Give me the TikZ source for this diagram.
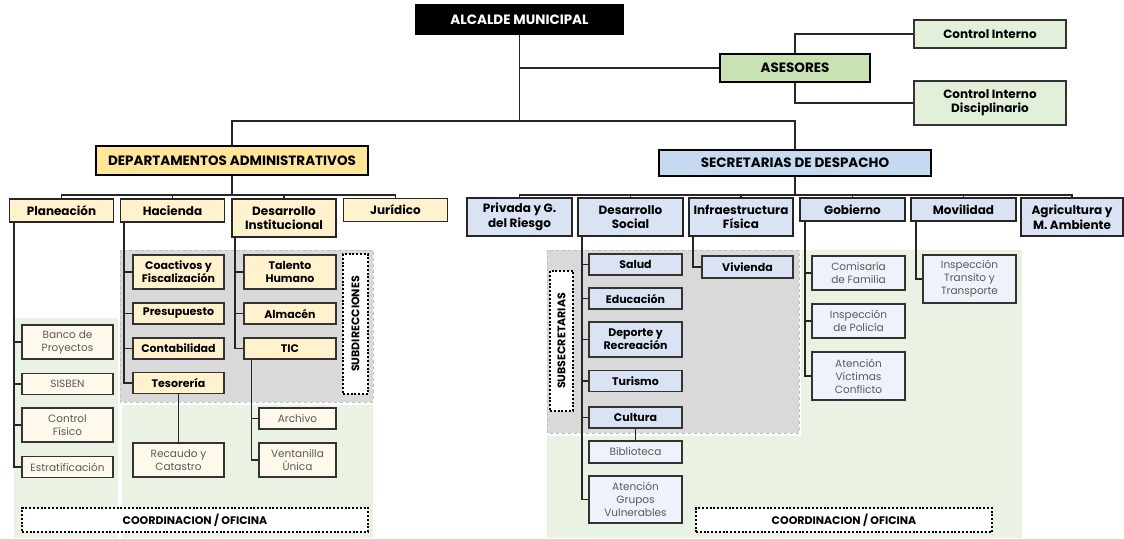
\documentclass[tikz,border=0pt]{standalone}
\usepackage{fontspec}
\setmainfont{Poppins}
\usepackage{xcolor}
\definecolor{orggreen}{RGB}{201,226,179}
\definecolor{orggreenlt}{RGB}{226,240,217}
\definecolor{orgyellow}{RGB}{255,230,153}
\definecolor{orgcream}{RGB}{255,242,204}
\definecolor{orgcreamlt}{RGB}{255,249,236}
\definecolor{orgblue}{RGB}{197,217,241}
\definecolor{orgbluesub}{RGB}{218,227,243}
\definecolor{orgbluelt}{RGB}{238,242,250}
\definecolor{orgtext}{RGB}{89,89,89}
\definecolor{zonegray}{RGB}{217,217,217}
\definecolor{zonegreen}{RGB}{234,243,227}
\usetikzlibrary{positioning}

\tikzset{
  head/.style={draw=black, line width=2.2pt, font=\fontsize{13.5}{15}\selectfont\bfseries, inner sep=0pt, align=center},
  dept/.style={draw=black!85, line width=1.5pt, fill=orgcream, font=\fontsize{12}{14.5}\selectfont\bfseries, inner sep=0pt, align=center, minimum width=104pt},
  secr/.style={dept, fill=orgbluesub},
  subbox/.style={draw=black!80, line width=1.3pt, fill=orgcream, font=\fontsize{11}{13}\selectfont\bfseries, inner sep=0pt, align=center, minimum width=91pt},
  leafbox/.style={draw=black!80, line width=1.3pt, fill=orgcreamlt, text=orgtext, font=\fontsize{10.5}{13}\selectfont, inner sep=0pt, align=center, minimum width=91pt},
  ctrlbox/.style={draw=black!80, line width=1.3pt, fill=orggreenlt, font=\fontsize{12}{14}\selectfont\bfseries, inner sep=0pt, align=center, minimum width=152pt},
  dotbox/.style={draw=black, line width=2pt, dash pattern=on 2pt off 1.8pt, fill=white, font=\fontsize{11}{12}\selectfont\bfseries, inner sep=0pt},
  vlabel/.style={font=\fontsize{11}{12}\selectfont\bfseries, rotate=90},
  link/.style={draw=black!85, line width=1.6pt},
}

\begin{document}
\begin{tikzpicture}[x=1pt, y=-1pt]
  \useasboundingbox (0,0) rectangle (1124,538);

  % zones behind the units
  \fill[zonegreen] (14,318) rectangle (118,538);
  \fill[zonegreen] (122,405) rectangle (373,538);
  \fill[zonegray, draw=black!25, dashed, thin] (120,250) rectangle (373,402);
  \fill[zonegreen] (547,436) rectangle (1022,538);
  \fill[zonegreen] (801,250) rectangle (1022,538);
  \fill[zonegray, draw=black!25, dashed, thin] (547,250) rectangle (799,433);

  % top level
  \node[head, fill=black, text=white, minimum width=207pt, minimum height=29pt] (alcalde) at (519.5,19.5) {ALCALDE MUNICIPAL};
  \node[head, fill=orggreen, minimum width=150pt, minimum height=28pt] (asesores) at (795,68) {ASESORES};
  \node[ctrlbox, minimum height=28pt] (ci) at (990,34) {Control Interno};
  \node[ctrlbox, minimum height=44pt] (cid) at (990,103) {Control Interno\\Disciplinario};

  \node[head, fill=orgyellow, minimum width=272pt, minimum height=29pt] (deptos) at (232,160.5) {DEPARTAMENTOS ADMINISTRATIVOS};
  \node[head, fill=orgblue, minimum width=272pt, minimum height=26pt] (secret) at (795,163) {SECRETARIAS DE DESPACHO};

  \coordinate (bus) at (519.5,121);
  \draw[link] (alcalde.south) |- (asesores.west);
  \draw[link] (alcalde.south) -- (bus);
  \draw[link] (deptos.north) |- (bus) -| (secret.north);
  \draw[link] (asesores.north) |- (ci.west);
  \draw[link] (asesores.south) |- (cid.west);

  % --- Departamentos administrativos ---
  \node[dept, minimum height=23pt] (plan) at (61.5,210.5) {Planeación};
  \node[dept, minimum height=23pt] (hac) at (172.5,210.5) {Hacienda};
  \node[dept, minimum height=38pt] (dinst) at (284,218) {Desarrollo\\Institucional};
  \node[dept, minimum height=23pt] (jur) at (395.5,210) {Jurídico};

  \draw[link] (deptos.south) -- ++(0,19) coordinate (dbus);
  \foreach \n in {plan,hac,dinst,jur}
    \draw[link] (dbus) -| (\n.north);

  % Planeacion
  \node[leafbox, minimum height=34pt] (banco) at (67.5,342) {Banco de\\Proyectos};
  \node[leafbox, minimum height=21pt] (sisben) at (67.5,384) {SISBEN};
  \node[leafbox, minimum height=34pt] (cfis) at (67.5,425) {Control\\Físico};
  \node[leafbox, minimum height=21pt] (estr) at (67.5,467) {Estratificación};
  \foreach \n in {banco,sisben,cfis,estr}
    \draw[link] ([xshift=5pt]plan.south west) |- (\n.west);

  % Hacienda
  \node[subbox, minimum height=34pt] (coac) at (178.5,272) {Coactivos y\\Fiscalización};
  \node[subbox, minimum height=21pt] (pres) at (178.5,313.5) {Presupuesto};
  \node[subbox, minimum height=21pt] (cont) at (178.5,348.5) {Contabilidad};
  \node[subbox, minimum height=21pt] (tes) at (178.5,383) {Tesorería};
  \node[leafbox, minimum height=34pt] (recaudo) at (178.5,460) {Recaudo y\\Catastro};
  \foreach \n in {coac,pres,cont,tes}
    \draw[link] ([xshift=4pt]hac.south west) |- (\n.west);
  \draw[link] (tes.south) -- (recaudo.north);

  % Desarrollo institucional
  \node[subbox, minimum width=92pt, minimum height=34pt] (talento) at (290,272) {Talento\\Humano};
  \node[subbox, minimum width=92pt, minimum height=21pt] (almacen) at (290,313.5) {Almacén};
  \node[subbox, minimum width=92pt, minimum height=21pt] (tic) at (290,348.5) {TIC};
  \node[leafbox, minimum width=77pt, minimum height=21pt] (archivo) at (297.5,418.5) {Archivo};
  \node[leafbox, minimum width=77pt, minimum height=34pt] (ventan) at (297.5,460) {Ventanilla\\Única};
  \foreach \n in {talento,almacen,tic}
    \draw[link] ([xshift=4pt]dinst.south west) |- (\n.west);
  \foreach \n in {archivo,ventan}
    \draw[link] ([xshift=8pt]tic.south west) |- (\n.west);

  \node[dotbox, minimum width=25pt, minimum height=140pt] (subdir) at (355.5,324) {};
  \node[vlabel] (subdirtxt) at (subdir.center) {SUBDIRECCIONES};
  \node[dotbox, minimum width=346pt, minimum height=24pt] (coordA) at (195,520) {COORDINACION / OFICINA};

  % --- Secretarias de despacho ---
  \node[secr, minimum width=105pt, minimum height=38pt] (privada) at (519.5,217) {Privada y G.\\del Riesgo};
  \node[secr, minimum width=105pt, minimum height=38pt] (dsocial) at (630.5,217) {Desarrollo\\Social};
  \node[secr, minimum height=38pt] (infra) at (741,217) {Infraestructura\\Física};
  \node[secr, minimum width=105pt, minimum height=23pt] (gob) at (852.5,209.5) {Gobierno};
  \node[secr, minimum width=105pt, minimum height=23pt] (movil) at (963.5,209.5) {Movilidad};
  \node[secr, minimum width=102pt, minimum height=38pt] (agri) at (1072,217) {Agricultura y\\M. Ambiente};

  \draw[link] (secret.south) -- ++(0,18) coordinate (sbus);
  \foreach \n in {privada,dsocial,infra,gob,movil,agri}
    \draw[link] (sbus) -| (\n.north);

  % Desarrollo social
  \node[subbox, fill=orgbluesub, minimum width=93pt, minimum height=21pt] (salud) at (635.5,264.5) {Salud};
  \node[subbox, fill=orgbluesub, minimum width=93pt, minimum height=21pt] (educ) at (635.5,298.5) {Educación};
  \node[subbox, fill=orgbluesub, minimum width=93pt, minimum height=35pt] (deporte) at (635.5,339.5) {Deporte y\\Recreación};
  \node[subbox, fill=orgbluesub, minimum width=93pt, minimum height=21pt] (turismo) at (635.5,381) {Turismo};
  \node[subbox, fill=orgbluesub, minimum width=93pt, minimum height=21pt] (cultura) at (635.5,417.5) {Cultura};
  \node[leafbox, fill=orgbluelt, minimum width=93pt, minimum height=22pt] (biblio) at (635.5,452) {Biblioteca};
  \node[leafbox, fill=orgbluelt, minimum width=93pt, minimum height=47pt] (grupos) at (635.5,499.5) {Atención\\Grupos\\Vulnerables};
  \foreach \n in {salud,educ,deporte,turismo,cultura,grupos}
    \draw[link] ([xshift=5pt]dsocial.south west) |- (\n.west);
  \draw[link] (cultura.south) -- (biblio.north);

  % Infraestructura
  \node[subbox, fill=orgbluesub, minimum width=91pt, minimum height=22pt] (vivienda) at (747.5,267) {Vivienda};
  \draw[link] ([xshift=5pt]infra.south west) |- (vivienda.west);

  % Gobierno
  \node[leafbox, fill=orgbluelt, minimum width=93pt, minimum height=34pt] (comis) at (858.5,273) {Comisaría\\de Familia};
  \node[leafbox, fill=orgbluelt, minimum width=93pt, minimum height=34pt] (inspol) at (858.5,321) {Inspección\\de Policía};
  \node[leafbox, fill=orgbluelt, minimum width=93pt, minimum height=48pt] (victimas) at (858.5,376) {Atención\\Víctimas\\Conflicto};
  \foreach \n in {comis,inspol,victimas}
    \draw[link] ([xshift=6pt]gob.south west) |- (\n.west);

  % Movilidad
  \node[leafbox, fill=orgbluelt, minimum width=93pt, minimum height=48pt] (transito) at (969.5,279) {Inspección\\Transito y\\Transporte};
  \draw[link] ([xshift=6pt]movil.south west) |- (transito.west);

  \node[dotbox, minimum width=23pt, minimum height=140pt] (subsec) at (561.5,341) {};
  \node[vlabel] (subsectxt) at (subsec.center) {SUBSECRETARIAS};
  \node[dotbox, minimum width=296pt, minimum height=24pt] (coordB) at (844,520) {COORDINACION / OFICINA};
\end{tikzpicture}
\end{document}
